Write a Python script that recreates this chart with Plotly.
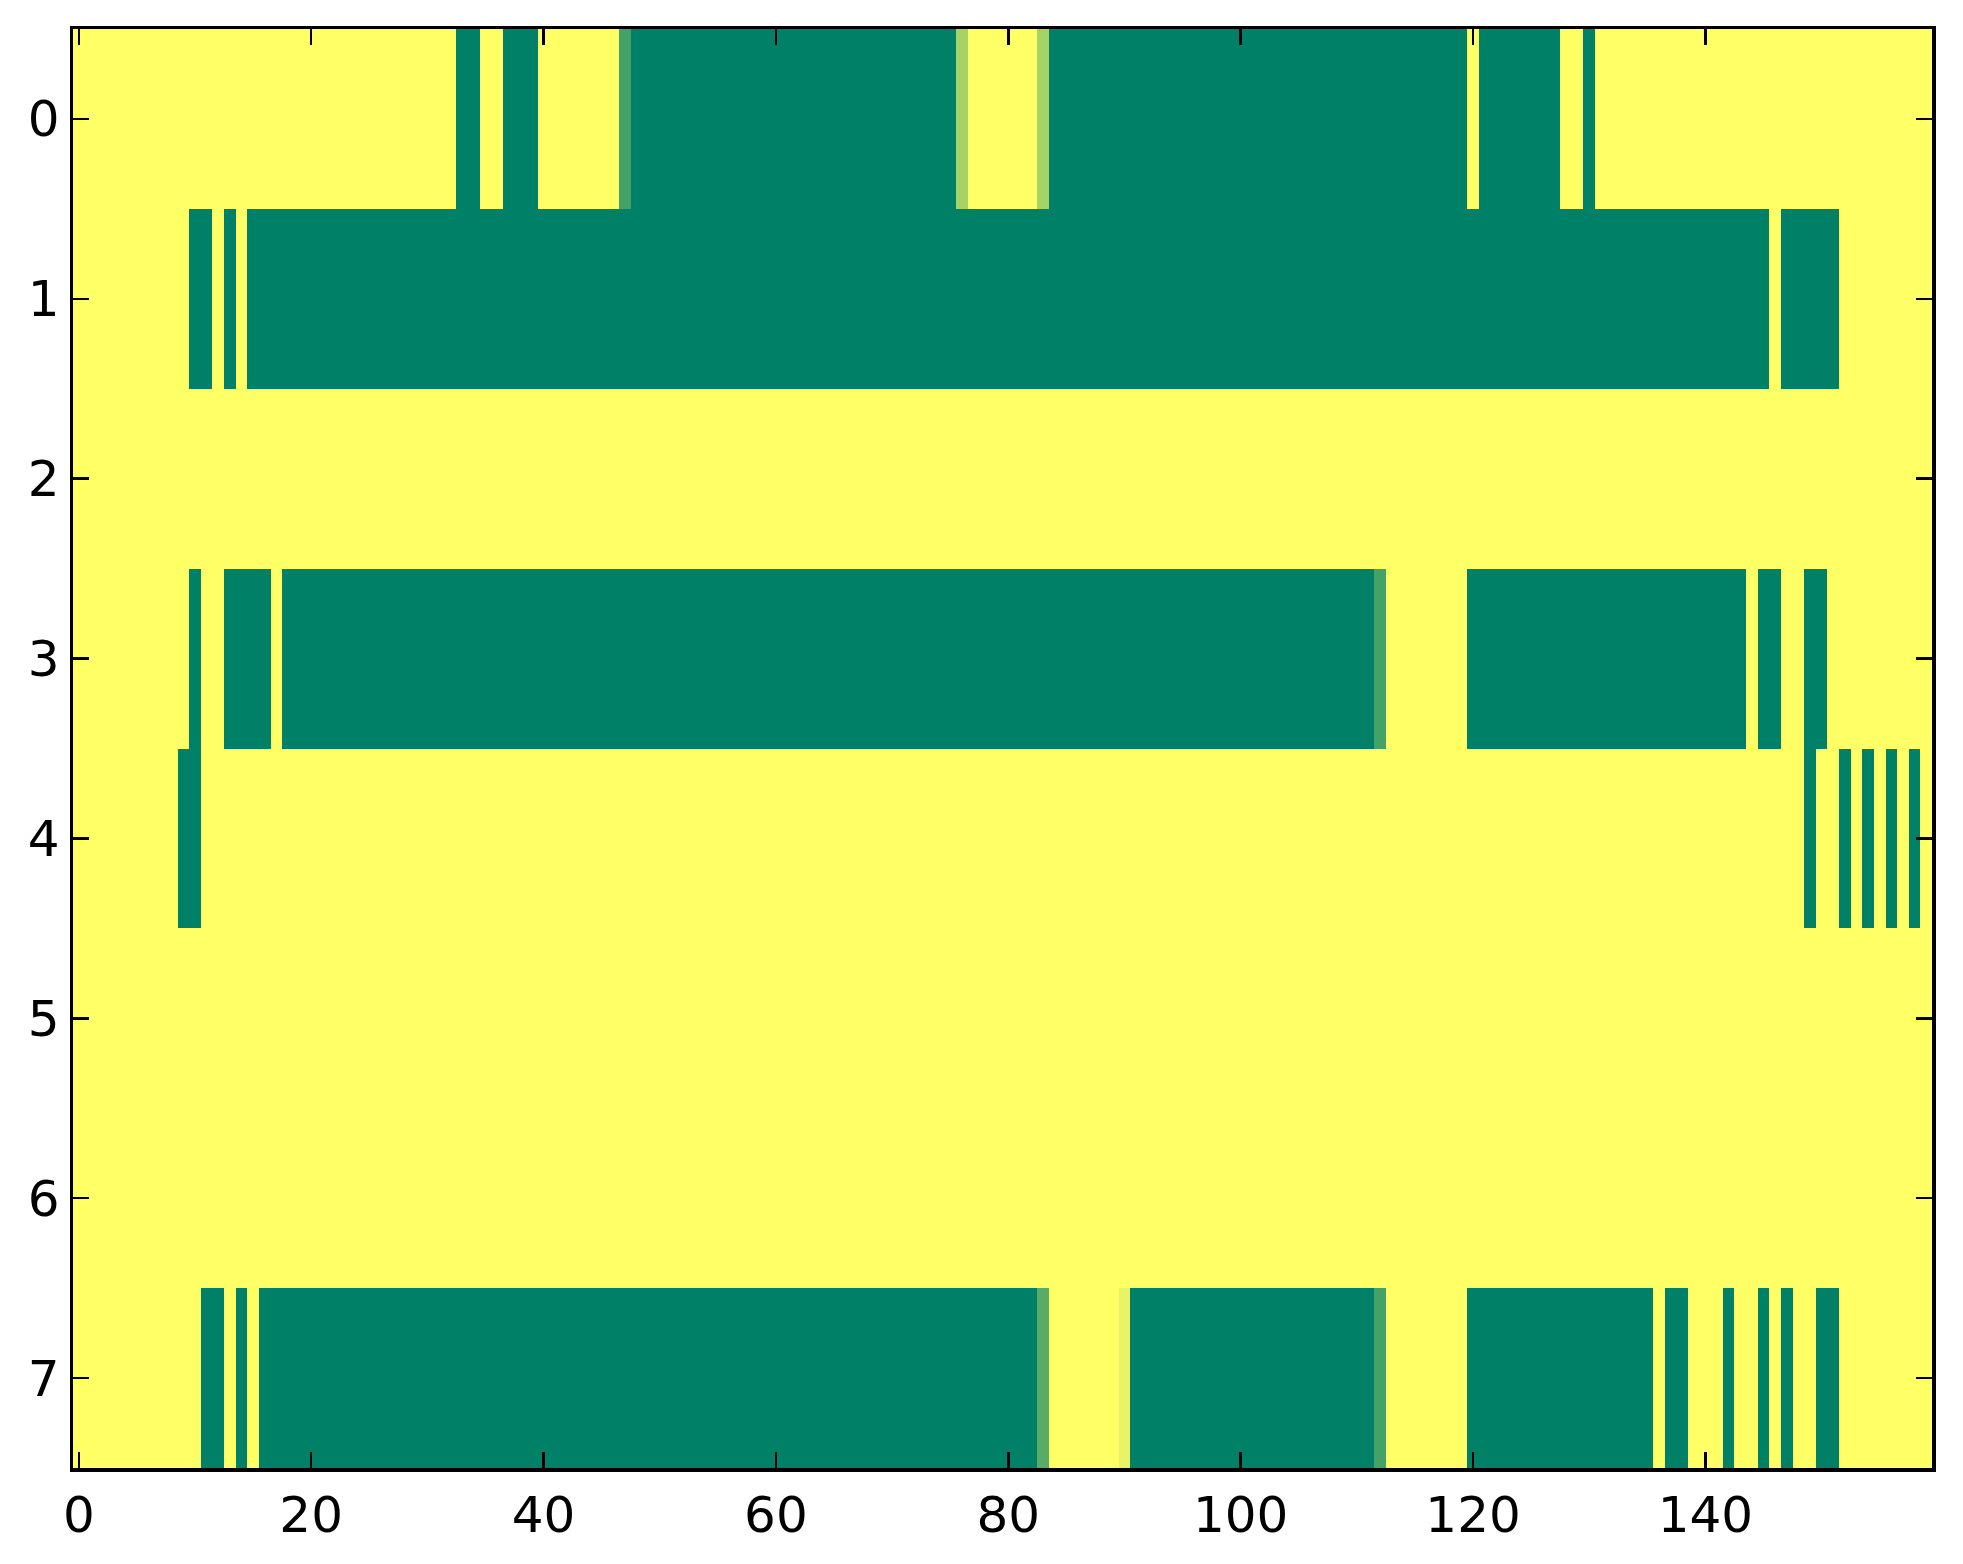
import plotly.graph_objects as go

# Run-length encoded rows: (value, count); 160 columns per row
row0 = [(1, 33), (0, 2), (1, 2), (0, 3), (1, 7), (0.27, 1), (0, 28), (0.65, 1), (1, 6), (0.65, 1),
        (0, 36), (1, 1), (0, 7), (1, 2), (0, 1), (1, 29)]
row1 = [(1, 10), (0, 2), (1, 1), (0, 1), (1, 1), (0, 131), (1, 1), (0, 5), (1, 8)]
row2 = [(1, 160)]
row3 = [(1, 10), (0, 1), (1, 2), (0, 4), (1, 1), (0, 94), (0.27, 1), (1, 7), (0, 24), (1, 1),
        (0, 2), (1, 2), (0, 2), (1, 9)]
row4 = [(1, 9), (0, 2), (1, 138), (0, 1), (1, 2), (0, 1), (1, 1), (0, 1), (1, 1), (0, 1),
        (1, 1), (0, 1), (1, 1)]
row5 = [(1, 160)]
row6 = [(1, 160)]
row7 = [(1, 11), (0, 2), (1, 1), (0, 1), (1, 1), (0, 67), (0.35, 1), (1, 6), (0.91, 1), (0, 21),
        (0.27, 1), (1, 7), (0, 16), (1, 1), (0, 2), (1, 3), (0, 1), (1, 2), (0, 1), (1, 1),
        (0, 1), (1, 2), (0, 2), (1, 8)]

rows_rle = [row0, row1, row2, row3, row4, row5, row6, row7]
x_tick_vals = [0, 20, 40, 60, 80, 100, 120, 140]
y_tick_vals = [0, 1, 2, 3, 4, 5, 6, 7]


def expand(rle):
    out = []
    for v, n in rle:
        out.extend([v] * n)
    return out


z = [expand(r) for r in rows_rle]
ncols = len(z[0])

summer = [[0.0, "rgb(0,128,102)"], [1.0, "rgb(255,255,102)"]]

fig = go.Figure(go.Heatmap(
    z=z,
    x=list(range(ncols)),
    y=list(range(len(z))),
    colorscale=summer,
    zmin=0, zmax=1,
    showscale=False,
    hoverinfo="skip",
))

axis_common = dict(
    showline=True, mirror="ticks", linecolor="black", linewidth=3.5,
    ticks="inside", ticklen=16, tickwidth=2.5, tickcolor="black",
    showgrid=False, zeroline=False,
    tickfont=dict(family="DejaVu Sans", size=50, color="black"),
)

fig.update_xaxes(range=[-0.5, ncols - 0.5], tickvals=x_tick_vals, **axis_common)
fig.update_yaxes(range=[len(z) - 0.5, -0.5], tickvals=y_tick_vals, **axis_common)

fig.update_layout(
    width=1963, height=1564,
    margin=dict(l=73, r=31, t=29, b=96),
    paper_bgcolor="white", plot_bgcolor="white",
    font=dict(family="DejaVu Sans", color="black"),
)

fig.write_html(
    "out.html",
    config={"displayModeBar": False, "staticPlot": True},
    post_script="document.body.style.margin='0px';document.body.style.overflow='hidden';",
)
